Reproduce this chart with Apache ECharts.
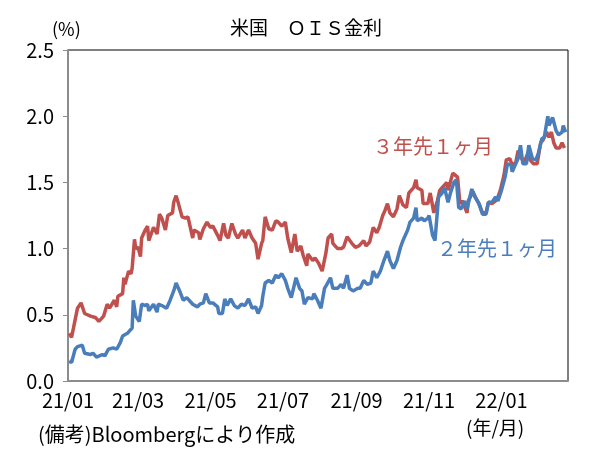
<!DOCTYPE html>
<html>
<head>
<meta charset="utf-8">
<script src="https://cdn.jsdelivr.net/npm/echarts@6/dist/echarts.min.js"></script>
<style>
  html, body { margin: 0; padding: 0; background: #fff; }
  #chart { width: 590px; height: 452px; }
</style>
</head>
<body>
<div id="chart"></div>
<script>
// days counted from 2021/01/01, values in %
const startDate = [2021, 0, 1];

const redDays = [1, 3, 8, 11, 14, 19, 23, 26, 30, 33, 35, 39, 41, 42, 46, 47, 48, 51, 53, 54, 56, 57, 59, 61, 62, 65, 67, 68, 72, 75, 77, 79, 82, 84, 88, 89, 91, 93, 96, 99,
  101, 105, 106, 110, 111, 114, 117, 120, 122, 126, 128, 131, 133, 135, 138, 141, 143, 147, 149, 152, 155, 158, 160, 163, 164, 166, 169, 172, 175, 177, 180, 183, 185, 188, 191, 193, 196, 198,
  201, 202, 206, 208, 211, 214, 217, 219, 222, 223, 227, 230, 232, 235, 239, 242, 245, 249, 251, 254, 257, 260, 262, 265, 267, 269, 271, 274, 277, 279, 282, 285, 287, 291, 293, 294, 298, 299,
  303, 305, 308, 311, 313, 315, 319, 320, 324, 325, 328, 330, 332, 336, 337, 341, 343, 346, 349, 352, 354, 357, 360, 362, 364, 367, 369, 372, 374, 377, 379, 382, 384, 388, 389, 392, 395, 398,
  400, 403, 405, 407, 409, 411, 414, 416, 418];
const redValues = [0.36, 0.33, 0.55, 0.59, 0.51, 0.49, 0.48, 0.45, 0.49, 0.58, 0.55, 0.61, 0.56, 0.64, 0.66, 0.78, 0.73, 0.83, 0.81, 0.85, 1.07, 1.00, 1.01, 0.94, 1.08, 1.14, 1.17, 1.06, 1.16, 1.11, 1.26, 1.23, 1.14, 1.25, 1.27, 1.35, 1.40, 1.34, 1.24, 1.23,
  1.24, 1.08, 1.14, 1.12, 1.07, 1.15, 1.20, 1.16, 1.17, 1.10, 1.06, 1.19, 1.10, 1.08, 1.19, 1.11, 1.08, 1.14, 1.08, 1.14, 1.08, 1.04, 0.92, 1.04, 1.06, 1.24, 1.15, 1.14, 1.21, 1.20, 1.17, 1.20, 1.08, 0.97, 1.11, 0.98, 1.02, 0.95,
  0.87, 0.96, 0.91, 0.93, 0.89, 0.83, 0.96, 1.08, 1.11, 1.04, 1.00, 1.00, 1.01, 1.09, 1.04, 1.01, 1.02, 1.06, 1.02, 1.05, 1.16, 1.12, 1.16, 1.25, 1.29, 1.34, 1.27, 1.24, 1.30, 1.40, 1.33, 1.31, 1.42, 1.46, 1.52, 1.46, 1.44, 1.34,
  1.34, 1.42, 1.27, 1.36, 1.44, 1.46, 1.50, 1.44, 1.57, 1.58, 1.54, 1.34, 1.36, 1.27, 1.36, 1.43, 1.39, 1.34, 1.27, 1.27, 1.35, 1.34, 1.36, 1.39, 1.44, 1.55, 1.67, 1.68, 1.63, 1.65, 1.74, 1.68, 1.65, 1.74, 1.67, 1.64, 1.64, 1.80,
  1.82, 1.88, 1.84, 1.88, 1.80, 1.76, 1.76, 1.80, 1.76];

const blueDays = [1, 3, 6, 8, 12, 14, 19, 21, 24, 29, 31, 34, 38, 41, 44, 46, 50, 52, 54, 55, 57, 60, 62, 65, 67, 68, 72, 75, 76, 79, 83, 86, 89, 91, 94, 97, 100,
  105, 109, 111, 114, 116, 119, 122, 126, 127, 130, 132, 134, 137, 140, 143, 146, 149, 152, 155, 158, 160, 163, 164, 166, 169, 172, 175, 177, 180, 183, 185, 188, 192, 195, 197, 199,
  202, 206, 207, 210, 213, 216, 218, 221, 223, 227, 230, 232, 235, 237, 240, 244, 246, 249, 252, 255, 257, 260, 263, 266, 269, 271, 274, 277, 280, 282, 286, 288, 291, 293, 294, 298,
  300, 303, 304, 307, 309, 312, 315, 317, 320, 322, 325, 327, 329, 331, 334, 336, 340, 342, 346, 349, 352, 354, 357, 360, 362, 365, 368, 370, 373, 374, 377, 379, 381, 383, 386, 388, 391, 394, 396, 399,
  401, 404, 405, 408, 411, 413, 416, 417, 419];
const blueValues = [0.15, 0.14, 0.24, 0.26, 0.27, 0.21, 0.20, 0.21, 0.18, 0.20, 0.19, 0.24, 0.25, 0.24, 0.29, 0.34, 0.36, 0.38, 0.40, 0.61, 0.49, 0.45, 0.58, 0.57, 0.58, 0.53, 0.58, 0.52, 0.58, 0.57, 0.55, 0.61, 0.68, 0.74, 0.68, 0.61, 0.63,
  0.58, 0.56, 0.58, 0.59, 0.66, 0.59, 0.59, 0.56, 0.51, 0.51, 0.62, 0.57, 0.62, 0.57, 0.55, 0.58, 0.57, 0.62, 0.55, 0.56, 0.51, 0.57, 0.64, 0.74, 0.76, 0.74, 0.80, 0.78, 0.81, 0.76, 0.70, 0.63, 0.78, 0.70, 0.68, 0.58,
  0.63, 0.62, 0.66, 0.61, 0.55, 0.70, 0.73, 0.78, 0.70, 0.70, 0.73, 0.70, 0.80, 0.70, 0.68, 0.70, 0.70, 0.76, 0.73, 0.74, 0.83, 0.78, 0.83, 0.91, 0.98, 0.91, 0.85, 0.91, 1.01, 1.06, 1.14, 1.20, 1.23, 1.31, 1.21, 1.23,
  1.21, 1.23, 1.25, 1.10, 1.06, 1.39, 1.42, 1.46, 1.35, 1.42, 1.50, 1.52, 1.31, 1.30, 1.36, 1.30, 1.45, 1.40, 1.34, 1.26, 1.26, 1.35, 1.35, 1.39, 1.36, 1.44, 1.54, 1.64, 1.63, 1.58, 1.64, 1.68, 1.78, 1.64, 1.64, 1.78, 1.68, 1.67, 1.72, 1.83,
  1.84, 2.00, 1.93, 1.99, 1.89, 1.86, 1.88, 1.93, 1.88];

const tickDates = ['2021-01-01', '2021-03-01', '2021-05-01', '2021-07-01', '2021-09-01', '2021-11-01', '2022-01-01'];
const tickLabels = ['21/01', '21/03', '21/05', '21/07', '21/09', '21/11', '22/01'];
const lastDay = 421;

function dayToTime(d) {
  return new Date(startDate[0], startDate[1], startDate[2] + d).getTime();
}
function strToTime(s) {
  const p = s.split('-');
  return new Date(+p[0], +p[1] - 1, +p[2]).getTime();
}

const tickTimes = tickDates.map(strToTime);
const labelByTime = {};
tickTimes.forEach(function (t, i) { labelByTime[t] = tickLabels[i]; });

const redData = redDays.map(function (d, i) { return [dayToTime(d), redValues[i]]; });
const blueData = blueDays.map(function (d, i) { return [dayToTime(d), blueValues[i]]; });

const jpFont = '"Noto Sans CJK JP", sans-serif';
const red = '#C0504D';
const blue = '#4A7EBB';

let option = {
  animation: false,
  backgroundColor: '#fff',
  title: {
    text: '米国　ＯＩＳ金利',
    left: 301,
    top: 13,
    textAlign: 'center',
    textStyle: { fontFamily: jpFont, fontSize: 19, fontWeight: 'normal', color: '#000' }
  },
  grid: {
    left: 68, right: 22, top: 50, bottom: 71,
    show: true, borderColor: '#000', borderWidth: 1
  },
  xAxis: {
    type: 'value',
    min: dayToTime(0),
    max: dayToTime(lastDay),
    axisLine: { lineStyle: { color: '#8c8c8c', width: 2 } },
    axisTick: { show: false },
    splitLine: { show: false },
    axisLabel: {
      customValues: tickTimes,
      formatter: function (v) { return labelByTime[v] || ''; },
      fontFamily: jpFont, fontSize: 20, color: '#000', margin: 9,
      hideOverlap: false
    }
  },
  yAxis: {
    type: 'value',
    min: 0, max: 2.5, interval: 0.5,
    axisLine: { show: true, lineStyle: { color: '#8c8c8c', width: 2 } },
    axisTick: { show: true, length: 5, lineStyle: { color: '#8c8c8c', width: 1 } },
    splitLine: { show: false },
    axisLabel: {
      formatter: function (v) { return v.toFixed(1); },
      fontFamily: jpFont, fontSize: 20, color: '#000', margin: 14
    }
  },
  series: [
    {
      name: '３年先１ヶ月', type: 'line', data: redData,
      showSymbol: false, lineStyle: { color: red, width: 3.5 }, itemStyle: { color: red }
    },
    {
      name: '２年先１ヶ月', type: 'line', data: blueData,
      showSymbol: false, lineStyle: { color: blue, width: 3.5 }, itemStyle: { color: blue }
    }
  ],
  graphic: [
    { type: 'text', left: 52, top: 20, style: { text: '(%)', font: '18px ' + jpFont, fill: '#000' } },
    { type: 'text', left: 373, top: 136, style: { text: '３年先１ヶ月', font: '20px ' + jpFont, fill: red } },
    { type: 'text', left: 437, top: 238, style: { text: '２年先１ヶ月', font: '20px ' + jpFont, fill: blue } },
    { type: 'text', left: 466, top: 418, style: { text: '(年/月)', font: '19px ' + jpFont, fill: '#000' } },
    { type: 'text', left: 38, top: 424, style: { text: '(備考)Bloombergにより作成', font: '20px ' + jpFont, fill: '#000' } }
  ]
};

let mychart = echarts.init(document.getElementById('chart'));
mychart.setOption(option);
</script>
</body>
</html>
